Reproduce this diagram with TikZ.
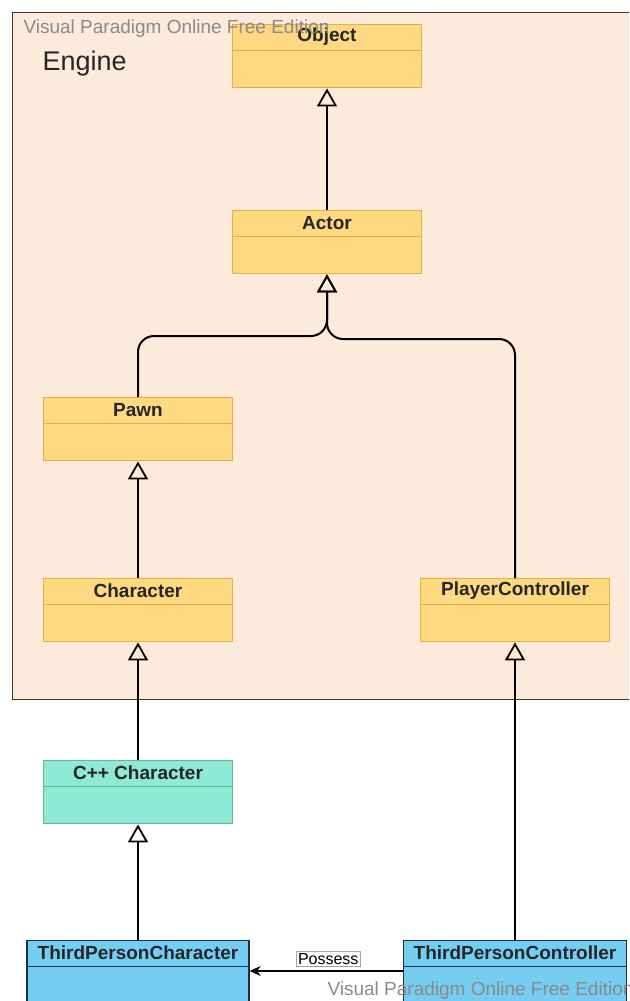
\documentclass[tikz,border=0pt]{standalone}
\usepackage{fontspec}
\setmainfont{Liberation Sans}
\usetikzlibrary{arrows.meta}

\definecolor{enginebg}{HTML}{FCEBDA}
\definecolor{engineline}{HTML}{3A3A3A}
\definecolor{coreFill}{HTML}{FFD982}
\definecolor{coreLine}{HTML}{E3B23C}
\definecolor{cppFill}{HTML}{8EEAD2}
\definecolor{cppLine}{HTML}{6BB29E}
\definecolor{gameFill}{HTML}{75CDF2}
\definecolor{gameLine}{HTML}{1E3140}
\definecolor{stamp}{HTML}{8A8A8A}

\tikzset{
  umlclass/.style={draw, line width=1.4pt, anchor=north, minimum width=189pt,
    minimum height=63pt, inner sep=0pt,
    path picture={\draw[line width=1.4pt, #1]
      ([yshift=-26pt]path picture bounding box.north west) --
      ([yshift=-26pt]path picture bounding box.north east);}},
  core/.style={umlclass=coreLine, draw=coreLine, fill=coreFill},
  cpp/.style={umlclass=cppLine, draw=cppLine, fill=cppFill},
  game/.style={umlclass=gameLine, draw=gameLine, fill=gameFill,
    minimum width=222pt, minimum height=90pt},
  title/.style={font=\fontsize{19}{21}\bfseries\selectfont, text=black!85},
  inherit/.style={line width=2pt, -{Triangle[open, length=18pt, width=20pt, line width=1.8pt]}},
  stampText/.style={anchor=west, text=stamp, font=\fontsize{19}{21}\selectfont}
}

% header text sits in the top strip of each class box
\newcommand\classtitle[2]{\node[title] at ([yshift=-13pt]#1.north) {#2};}

\begin{document}
\begin{tikzpicture}[x=1pt, y=-1pt]
  \useasboundingbox (0,0) rectangle (629,1001);
  \clip (0,0) rectangle (629,1001);

  %%% engine package
  \node[draw=engineline, fill=enginebg, line width=1.2pt, anchor=north west,
    minimum width=650pt, minimum height=687pt, inner sep=0pt] (engine) at (12,12) {};
  \node[anchor=west, font=\fontsize{27}{30}\selectfont, text=black!85] (enginelabel) at (39,64) {Engine};

  %%% classes
  \node[core] (object) at (327,24) {};
  \classtitle{object}{Object}
  \node[core] (actor) at (327,210) {};
  \classtitle{actor}{Actor}
  \node[core] (pawn) at (138,397) {};
  \classtitle{pawn}{Pawn}
  \node[core] (character) at (138,578) {};
  \classtitle{character}{Character}
  \node[core] (playerctrl) at (515,578) {};
  \classtitle{playerctrl}{PlayerController}

  \node[cpp] (cppchar) at (138,760) {};
  \classtitle{cppchar}{C++ Character}

  \node[game] (tpchar) at (138,940) {};
  \classtitle{tpchar}{ThirdPersonCharacter}
  \node[game, minimum width=223pt] (tpctrl) at (515,940) {};
  \classtitle{tpctrl}{ThirdPersonController}

  %%% generalisation
  \draw[inherit] (actor) -- (object);
  \draw[inherit, rounded corners=16pt] (pawn.north) -- (138,336) -- (327,336) -- (actor.south);
  \draw[inherit, rounded corners=16pt] (playerctrl.north) -- (515,339) -- (327,339) -- (actor.south);
  \draw[inherit] (character) -- (pawn);
  \draw[inherit] (cppchar) -- (character);
  \draw[inherit] (tpchar) -- (cppchar);
  \draw[inherit] (tpctrl) -- (playerctrl);

  %%% possess
  \draw[line width=1.8pt, -{Stealth[length=11pt, width=10pt]}]
    ([yshift=-31pt]tpctrl.north west) -- ([yshift=-31pt]tpchar.north east)
    node[midway, anchor=south, yshift=4pt, xshift=2pt, fill=white, draw=black!35,
      line width=0.6pt, inner sep=2pt, font=\fontsize{16}{17}\selectfont] (possess) {Possess};

  %%% edition stamps
  \node[stampText] (stamptop) at (20,29) {Visual Paradigm Online Free Edition};
  \node[stampText] (stampbottom) at (324,991) {Visual Paradigm Online Free Edition};
\end{tikzpicture}
\end{document}
